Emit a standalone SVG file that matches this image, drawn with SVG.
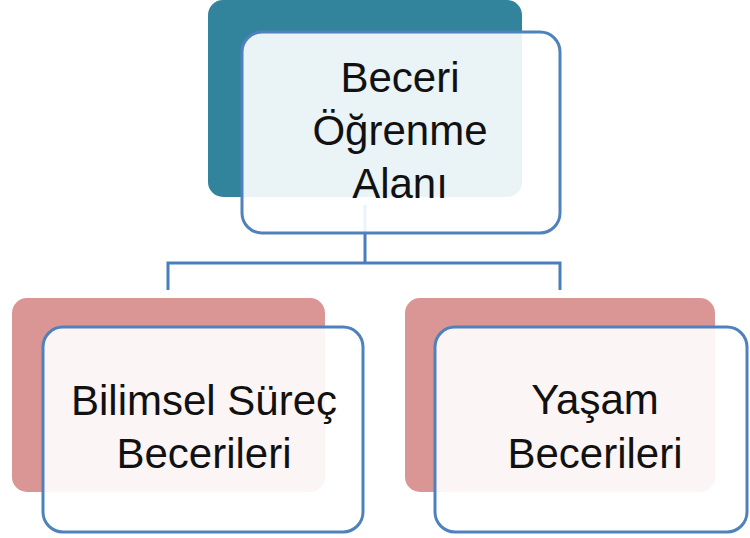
<svg xmlns="http://www.w3.org/2000/svg" width="750" height="538" viewBox="0 0 750 538">
<style>
.back-top{fill:#31849b;}
.back-sub{fill:#d99694;}
.front{fill:#ffffff;fill-opacity:0.9;stroke:#4f81bd;stroke-width:3;}
.lbl{font-family:"Liberation Sans",Arial,sans-serif;font-size:42px;fill:#111;text-anchor:middle;}
.conn{fill:none;stroke:#4a7ebb;stroke-width:3;}
</style>
<rect width="750" height="538" fill="#ffffff"/>
<g id="connectors">
<path class="conn" d="M365,205 V263 M168,290 V263 H560 V290"/>
</g>
<g id="node-top">
<rect class="back-top" x="208" y="0" width="314" height="197" rx="15"/>
<rect class="front" x="242" y="32" width="318" height="201" rx="20"/>
<text class="lbl" x="400" y="92">Beceri</text>
<text class="lbl" x="400" y="145">Öğrenme</text>
<text class="lbl" x="400" y="198">Alanı</text>
</g>
<g id="node-left">
<rect class="back-sub" x="12" y="298" width="313" height="194" rx="15"/>
<rect class="front" x="43" y="327" width="320" height="205" rx="20"/>
<text class="lbl" x="204" y="415">Bilimsel Süreç</text>
<text class="lbl" x="204" y="468">Becerileri</text>
</g>
<g id="node-right">
<rect class="back-sub" x="405" y="298" width="310" height="194" rx="15"/>
<rect class="front" x="435" y="327" width="312" height="205" rx="20"/>
<text class="lbl" x="595" y="414">Yaşam</text>
<text class="lbl" x="595" y="468">Becerileri</text>
</g>
</svg>
